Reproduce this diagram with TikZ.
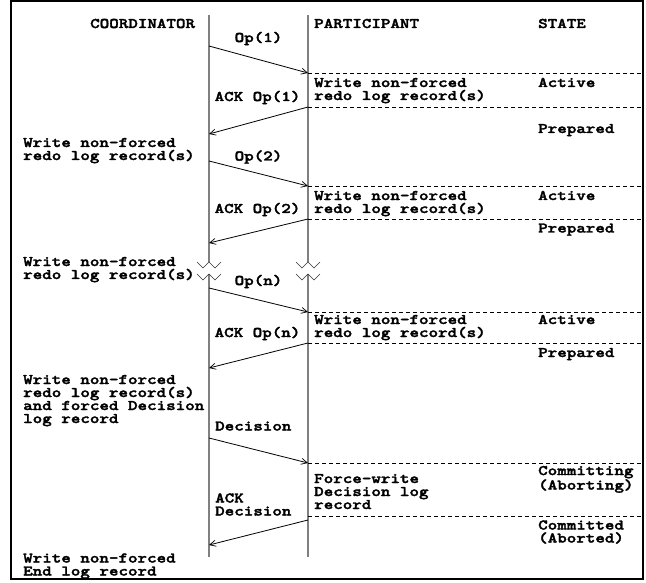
\documentclass[tikz,border=0pt]{standalone}
\usepackage{fontspec}
\newfontfamily\courb{lmmonolt10-bold.otf}[FakeStretch=1.235,FakeBold=2.2]
\usetikzlibrary{arrows.meta}
\begin{document}
\begin{tikzpicture}[x=1pt,y=-1pt,
  txt/.style={font=\courb\fontsize{14.7}{13}\selectfont, inner sep=0pt, align=left, anchor=base west},
  lbl/.style={font=\courb\fontsize{14.7}{13}\selectfont, inner sep=0pt, anchor=base},
  life/.style={draw=black!50, line width=1.3pt},
  zig/.style={draw=black!80, line width=0.7pt},
  msg/.style={line width=0.8pt, -{Straight Barb[length=6pt,width=6pt,line width=0.7pt]}},
  sepline/.style={dash pattern=on 4pt off 3pt, line width=0.7pt}]
\useasboundingbox (0,0) rectangle (646,583);
\draw[line width=2.4pt] (11,1.2) rectangle (643,579);

% lifelines
\coordinate (ct) at (209,15);  \coordinate (cz1) at (209,262);
\coordinate (cz2) at (209,274); \coordinate (ce) at (209,557);
\coordinate (pt) at (308,15);  \coordinate (pz1) at (308,262);
\coordinate (pz2) at (308,274); \coordinate (pe) at (308,557);
\draw[life] (ct) -- (cz1);
\draw[life] (cz2) -- (ce);
\draw[life] (pt) -- (pz1);
\draw[life] (pz2) -- (pe);
\foreach \z in {cz1,cz2,pz1,pz2}
  \draw[zig] (\z) ++(-12,0) -- ++(6,6) -- ++(6,-6) -- ++(6,6) -- ++(6,-6);

% headers
\node[txt] (hc) at (90,28) {COORDINATOR};
\node[txt] (hp) at (314,28) {PARTICIPANT};
\node[txt] (hs) at (538,28) {STATE};

% message end points
\coordinate (c1) at (209,46);  \coordinate (p1) at (308,73);
\coordinate (p2) at (308,107); \coordinate (c2) at (209,134);
\coordinate (c3) at (209,161); \coordinate (p3) at (308,186);
\coordinate (p4) at (308,219); \coordinate (c4) at (209,243);
\coordinate (c5) at (209,288); \coordinate (p5) at (308,312);
\coordinate (p6) at (308,343); \coordinate (c6) at (209,368);
\coordinate (c7) at (209,438); \coordinate (p7) at (308,463);
\coordinate (p8s) at (308,516);
\coordinate (p8) at (308,520); \coordinate (c8) at (209,545);

% right ends of dashed lines
\coordinate (r1) at (642,73);
\coordinate (r2) at (642,107);
\coordinate (r3) at (642,186);
\coordinate (r4) at (642,219);
\coordinate (r5) at (642,312);
\coordinate (r6) at (642,343);
\coordinate (r7) at (642,463);
\coordinate (r8) at (642,516);
\foreach \a/\b in {p1/r1,p2/r2,p3/r3,p4/r4,p5/r5,p6/r6,p7/r7,p8s/r8}
  \draw[sepline] (\a) -- (\b);

% messages
\draw[msg] (c1) -- (p1);
\draw[msg] (p2) -- (c2);
\draw[msg] (c3) -- (p3);
\draw[msg] (p4) -- (c4);
\draw[msg] (c5) -- (p5);
\draw[msg] (p6) -- (c6);
\draw[msg] (c7) -- (p7);
\draw[msg] (p8) -- (c8);

% message labels
\node[lbl] (l1) at (258.5,42) {Op(1)};
\node[lbl] (l2) at (257.5,101) {ACK Op(1)};
\node[lbl] (l3) at (258.5,160.5) {Op(2)};
\node[lbl] (l4) at (257.5,213) {ACK Op(2)};
\node[lbl] (l5) at (258.5,285) {Op(n)};
\node[lbl] (l6) at (257.5,337) {ACK Op(n)};
\node[txt] (l7) at (215,430.5) {Decision};
\node[txt] (l8) at (215,515.5) {ACK\\Decision};

% coordinator texts (base = last line)
\node[txt] (ca) at (23,160) {Write non-forced\\redo log record(s)};
\node[txt] (cb) at (23,279) {Write non-forced\\redo log record(s)};
\node[txt] (cc) at (23,423) {Write non-forced\\redo log record(s)\\and forced Decision\\log record};
\node[txt] (cd) at (23,575.5) {Write non-forced\\End log record};

% participant texts
\node[txt] (pa) at (314,100) {Write non-forced\\redo log record(s)};
\node[txt] (pb) at (314,213) {Write non-forced\\redo log record(s)};
\node[txt] (pc) at (314,337) {Write non-forced\\redo log record(s)};
\node[txt] (pd) at (314,509) {Force-write\\Decision log\\record};

% states
\node[txt] (s1) at (538,87) {Active};
\node[txt] (s2) at (538,133) {Prepared};
\node[txt] (s3) at (538,200) {Active};
\node[txt] (s4) at (538,232.5) {Prepared};
\node[txt] (s5) at (538,324) {Active};
\node[txt] (s6) at (538,357) {Prepared};
\node[txt] (s7) at (538,489.5) {Committing\\(Aborting)};
\node[txt] (s8) at (538,542.5) {Committed\\(Aborted)};
\end{tikzpicture}
\end{document}
